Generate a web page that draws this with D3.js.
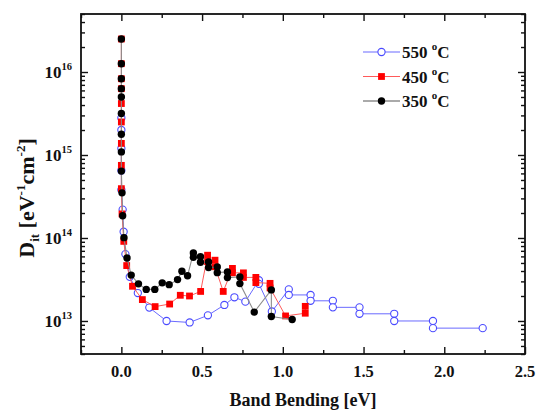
<!DOCTYPE html>
<html>
<head>
  <meta charset="utf-8">
  <script src="https://d3js.org/d3.v7.min.js"></script>
  <style>
  body { margin:0; background:#fff; }
  text { font-family: "Liberation Serif", "Times New Roman", serif; font-weight: bold; fill: #111; }
  .axis path { display: none; }
  .axis line { stroke: #111; stroke-width: 1.4; }
  </style>
</head>
<body>
<script>

  // 550 C : open blue circles
  var x550 = [0, 0, 0, 0, 0, 0.008, 0.014, 0.025, 0.052, 0.102, 0.173, 0.280, 0.423, 0.536, 0.638, 0.700, 0.768,
              0.852, 0.852, 0.932, 1.037, 1.037, 1.172, 1.172, 1.310, 1.310, 1.475, 1.475, 1.690, 1.690, 1.930, 1.930, 2.238];
  var y550 = [2.8e15, 2.0e15, 1.2e15, 6.5e14, 3.8e14, 2.2e14, 1.19e14, 6.4e13, 3.4e13, 2.17e13, 1.45e13, 1.0e13, 9.6e12, 1.17e13, 1.56e13, 1.93e13, 1.71e13,
              3.1e13, 2.8e13, 1.3e13, 2.4e13, 2.06e13, 2.06e13, 1.75e13, 1.75e13, 1.46e13, 1.46e13, 1.22e13, 1.22e13, 1.0e13, 1.0e13, 8.2e12, 8.2e12];

  // 450 C : red squares
  var x450 = [0, 0, 0, 0, 0, 0, 0, 0, 0, 0.004, 0.015, 0.033, 0.069, 0.130, 0.209, 0.299, 0.365, 0.422, 0.491,
              0.534, 0.534, 0.580, 0.580, 0.631, 0.688, 0.688, 0.756, 0.756, 0.833, 0.833, 0.921, 0.921, 1.017, 1.139, 1.139];
  var y450 = [2.5e16, 1.26e16, 8.3e15, 6.3e15, 4.17e15, 2.5e15, 1.38e15, 7.5e14, 3.93e14, 1.95e14, 9.1e13, 4.65e13, 2.62e13, 1.81e13, 1.49e13, 1.6e13, 2.04e13, 2.0e13, 2.27e13,
              6.2e13, 5.2e13, 5.4e13, 4.5e13, 2.27e13, 4.3e13, 3.8e13, 3.8e13, 3.35e13, 3.35e13, 2.9e13, 2.84e13, 2.5e13, 1.15e13, 1.24e13, 1.5e13];

  // 350 C : black dots
  var x350 = [0, 0, 0, 0, 0, 0, 0, 0, 0, 0.004, 0.008, 0.016, 0.035, 0.061, 0.106, 0.154, 0.207, 0.253, 0.296, 0.348, 0.375, 0.410,
              0.446, 0.446, 0.490, 0.490, 0.540, 0.540, 0.594, 0.594, 0.657, 0.657, 0.734, 0.734, 0.823, 0.929, 0.929, 1.058];
  var y350 = [2.5e16, 1.26e16, 8.3e15, 6.3e15, 5.0e15, 3.16e15, 1.78e15, 1.09e15, 6.4e14, 3.5e14, 1.85e14, 1.01e14, 5.75e13, 3.57e13, 2.8e13, 2.4e13, 2.4e13, 2.88e13, 2.74e13, 3.15e13, 3.98e13, 3.5e13,
              6.6e13, 5.85e13, 5.96e13, 5.1e13, 5.13e13, 4.4e13, 4.47e13, 3.82e13, 3.9e13, 3.33e13, 3.39e13, 2.82e13, 1.28e13, 2.37e13, 1.13e13, 1.04e13];

  var seriesNames = ["550", "450", "350"];
  var xMajor = [0, 0.5, 1.0, 1.5, 2.0, 2.5];
  var xMinor = [-0.25, 0.25, 0.75, 1.25, 1.75, 2.25];
  var yMajorExp = [13, 14, 15, 16];

  var W = 538, H = 413;
  var pLeft = 81, pRight = 525, pTop = 14, pBottom = 354;

  var svg = d3.select("body").append("svg")
    .attr("width", W)
    .attr("height", H);

  var x = d3.scaleLinear().domain([-0.25, 2.5]).range([pLeft, pRight]);
  var y = d3.scaleLog().domain([4e12, 5e16]).range([pBottom, pTop]);

  var yMinor = [];
  for (var e = 12; e <= 16; e++) {
    for (var m = 2; m <= 9; m++) {
      var v = m * Math.pow(10, e);
      if (v >= 4e12 && v <= 5e16) yMinor.push(v);
    }
  }
  var yMajor = yMajorExp.map(function(d) { return Math.pow(10, d); });

  // axes, ticks inward
  svg.append("g").attr("class", "axis").attr("transform", "translate(0," + pBottom + ")")
    .call(d3.axisBottom(x).tickValues(xMajor).tickSize(-7).tickFormat(""));
  svg.append("g").attr("class", "axis").attr("transform", "translate(0," + pBottom + ")")
    .call(d3.axisBottom(x).tickValues(xMinor).tickSize(-4).tickFormat(""));
  svg.append("g").attr("class", "axis").attr("transform", "translate(0," + pTop + ")")
    .call(d3.axisTop(x).tickValues(xMajor).tickSize(-7).tickFormat(""));
  svg.append("g").attr("class", "axis").attr("transform", "translate(0," + pTop + ")")
    .call(d3.axisTop(x).tickValues(xMinor).tickSize(-4).tickFormat(""));

  svg.append("g").attr("class", "axis").attr("transform", "translate(" + pLeft + ",0)")
    .call(d3.axisLeft(y).tickValues(yMajor).tickSize(-7).tickFormat(""));
  svg.append("g").attr("class", "axis").attr("transform", "translate(" + pLeft + ",0)")
    .call(d3.axisLeft(y).tickValues(yMinor).tickSize(-4).tickFormat(""));
  svg.append("g").attr("class", "axis").attr("transform", "translate(" + pRight + ",0)")
    .call(d3.axisRight(y).tickValues(yMajor).tickSize(-7).tickFormat(""));
  svg.append("g").attr("class", "axis").attr("transform", "translate(" + pRight + ",0)")
    .call(d3.axisRight(y).tickValues(yMinor).tickSize(-4).tickFormat(""));

  svg.append("rect")
    .attr("x", pLeft).attr("y", pTop)
    .attr("width", pRight - pLeft).attr("height", pBottom - pTop)
    .attr("fill", "none").attr("stroke", "#111").attr("stroke-width", 1.8);

  // tick labels
  svg.selectAll(".xlab").data(xMajor).enter().append("text")
    .attr("x", function(d) { return x(d); })
    .attr("y", pBottom + 23)
    .attr("text-anchor", "middle")
    .style("font-size", "16.5px")
    .text(function(d) { return d3.format(".1f")(d); });

  var yl = svg.selectAll(".ylab").data(yMajorExp).enter().append("text")
    .attr("x", pLeft - 9)
    .attr("y", function(d) { return y(Math.pow(10, d)) + 6; })
    .attr("text-anchor", "end")
    .style("font-size", "17px");
  yl.append("tspan").text("10");
  yl.append("tspan").attr("dy", -8).style("font-size", "10.5px").text(function(d) { return d; });

  // axis titles
  svg.append("text")
    .attr("x", (pLeft + pRight) / 2)
    .attr("y", 406)
    .attr("text-anchor", "middle")
    .style("font-size", "18px")
    .text("Band Bending [eV]");

  var yt = svg.append("text")
    .attr("transform", "translate(34,198) rotate(-90)")
    .attr("text-anchor", "middle")
    .style("font-size", "22px");
  yt.append("tspan").text("D");
  yt.append("tspan").attr("dy", 5).style("font-size", "13px").text("it");
  yt.append("tspan").attr("dy", -5).text(" [eV");
  yt.append("tspan").attr("dy", -9).style("font-size", "13px").text("-1");
  yt.append("tspan").attr("dy", 9).text("cm");
  yt.append("tspan").attr("dy", -9).style("font-size", "13px").text("-2");
  yt.append("tspan").attr("dy", 9).text("]");

  // series
  var line = d3.line()
    .x(function(d) { return x(d[0]); })
    .y(function(d) { return y(d[1]); });

  function pts(xs, ys) { return xs.map(function(d, i) { return [d, ys[i]]; }); }

  var styles = [
    { data: pts(x550, y550), line: "#6a6aff", lw: 1, shape: "ocircle", col: "#4a4aff" },
    { data: pts(x450, y450), line: "#ff5a5a", lw: 1, shape: "square", col: "#ff0000" },
    { data: pts(x350, y350), line: "#8c8c8c", lw: 1.1, shape: "dot", col: "#000" }
  ];

  function marker(g, s, cx, cy) {
    if (s.shape === "ocircle") {
      g.append("circle").attr("cx", cx).attr("cy", cy).attr("r", 3.6)
        .attr("fill", "#fff").attr("stroke", s.col).attr("stroke-width", 1.1);
    } else if (s.shape === "square") {
      g.append("rect").attr("x", cx - 3.4).attr("y", cy - 3.4).attr("width", 6.8).attr("height", 6.8)
        .attr("fill", s.col);
    } else {
      g.append("circle").attr("cx", cx).attr("cy", cy).attr("r", 3.7).attr("fill", s.col);
    }
  }

  styles.forEach(function(s) {
    var g = svg.append("g");
    g.append("path").attr("d", line(s.data)).attr("fill", "none")
      .attr("stroke", s.line).attr("stroke-width", s.lw);
    s.data.forEach(function(d) { marker(g, s, x(d[0]), y(d[1])); });
  });

  // legend
  var legY = [52, 76.5, 101];
  styles.forEach(function(s, i) {
    var g = svg.append("g");
    g.append("line").attr("x1", 363).attr("x2", 400).attr("y1", legY[i]).attr("y2", legY[i])
      .attr("stroke", i === 2 ? "#aaa" : s.line).attr("stroke-width", i === 2 ? 2 : 1.1);
    marker(g, s, 381.5, legY[i]);
    var t = g.append("text").attr("x", 402).attr("y", legY[i] + 6).style("font-size", "17px");
    t.append("tspan").text(seriesNames[i] + " ");
    t.append("tspan").attr("dy", -8).style("font-size", "11px").text("o");
    t.append("tspan").attr("dy", 8).text("C");
  });

</script>
</body>
</html>
